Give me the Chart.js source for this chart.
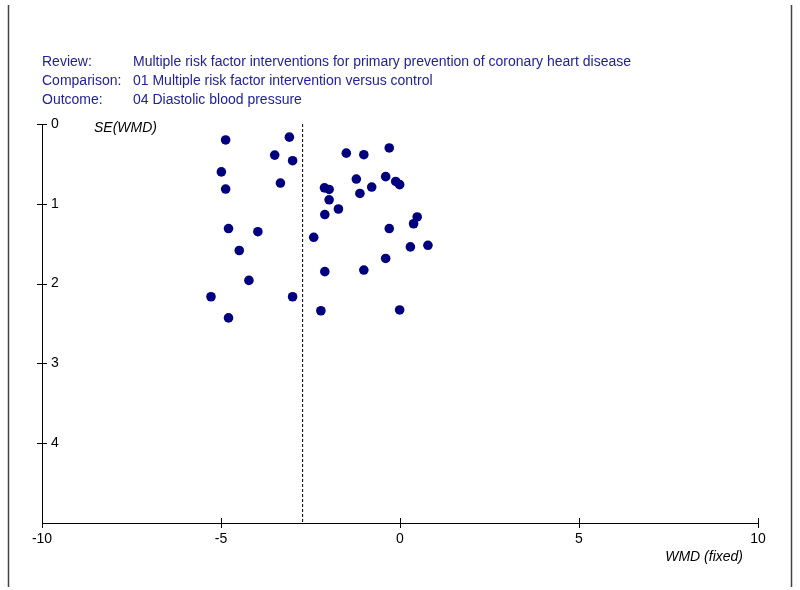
<!DOCTYPE html>
<html>
<head>
<meta charset="utf-8">
<script src="https://cdn.jsdelivr.net/npm/chart.js@4/dist/chart.umd.min.js"></script>
<style>
  html, body { margin: 0; padding: 0; background: #fff; }
  #wrap { width: 800px; height: 590px; position: relative; }
</style>
</head>
<body>
<div id="wrap"><canvas id="c"></canvas></div>
<script>
// ---- data ----
const headerLabels = ["Review:", "Comparison:", "Outcome:"];
const headerValues = [
  "Multiple risk factor interventions for primary prevention of coronary heart disease",
  "01 Multiple risk factor intervention versus control",
  "04 Diastolic blood pressure"
];
const xTitle = "WMD (fixed)";
const yTitle = "SE(WMD)";
const xTickValues = [-10, -5, 0, 5, 10];
const yTickValues = [0, 1, 2, 3, 4];

// weighted mean difference of each trial
const wmd = [
  -4.87, -3.09, -3.50, -3.00, -4.99, -3.34, -4.87, -4.79, -3.97, -4.49,
  -4.22, -5.28, -3.00, -4.79, -1.50, -1.01, -0.30, -1.22, -0.40, -0.12,
  -0.01, -2.11, -1.98, -0.79, -1.12, -1.98, -1.72, -2.10, -2.41, -0.30,
  -2.10, -1.01, -0.40, -2.21, -0.01, 0.48, 0.38, 0.29, 0.78
];
// standard error of each trial's WMD
const seWmd = [
  0.20, 0.165, 0.39, 0.46, 0.60, 0.74, 0.815, 1.31, 1.35, 1.585,
  1.96, 2.165, 2.165, 2.43, 0.365, 0.385, 0.30, 0.69, 0.66, 0.72,
  0.76, 0.80, 0.82, 0.79, 0.87, 0.95, 1.065, 1.135, 1.42, 1.31,
  1.85, 1.83, 1.685, 2.34, 2.33, 1.165, 1.25, 1.54, 1.52
];
// pooled (fixed effect) estimate shown as the dashed line
const pooledWmd = -2.72;
const seRange = [0, 5];

const points = wmd.map((v, i) => ({ x: v, y: seWmd[i] }));
const pooledLine = seRange.map(s => ({ x: pooledWmd, y: s }));

const FONT = "'Liberation Sans', Arial, sans-serif";

const decor = {
  id: 'decor',
  afterDraw(chart) {
    const ctx = chart.ctx;
    const xs = chart.scales.x, ys = chart.scales.y;
    const area = chart.chartArea;
    ctx.save();
    // page frame lines
    ctx.strokeStyle = '#444';
    ctx.lineWidth = 1.5;
    ctx.beginPath();
    ctx.moveTo(8.5, 5); ctx.lineTo(8.5, 587);
    ctx.moveTo(791.5, 5); ctx.lineTo(791.5, 587);
    ctx.stroke();
    // cross tick marks
    ctx.strokeStyle = '#000';
    ctx.lineWidth = 1;
    ctx.beginPath();
    xTickValues.forEach(v => {
      const px = Math.round(xs.getPixelForValue(v)) + 0.5;
      ctx.moveTo(px, area.bottom - 5); ctx.lineTo(px, area.bottom + 5);
    });
    yTickValues.forEach(v => {
      const py = Math.round(ys.getPixelForValue(v)) + 0.5;
      ctx.moveTo(area.left - 5, py); ctx.lineTo(area.left + 5, py);
    });
    ctx.stroke();
    // header
    ctx.fillStyle = '#22229a';
    ctx.font = '14px ' + FONT;
    ctx.textBaseline = 'middle';
    ctx.textAlign = 'left';
    const hy = [62, 81, 100];
    headerLabels.forEach((t, i) => ctx.fillText(t, 42, hy[i]));
    headerValues.forEach((t, i) => ctx.fillText(t, 133, hy[i]));
    // axis titles
    ctx.fillStyle = '#000';
    ctx.font = 'italic 14px ' + FONT;
    ctx.textAlign = 'left';
    ctx.fillText(yTitle, 94, 128);
    ctx.textAlign = 'right';
    ctx.fillText(xTitle, 743, 557);
    ctx.restore();
  }
};

new Chart(document.getElementById('c'), {
  type: 'scatter',
  data: {
    datasets: [
      {
        data: points,
        backgroundColor: '#00007f',
        borderColor: '#00007f',
        borderWidth: 0,
        pointRadius: 4.8,
        pointHoverRadius: 4.8
      },
      {
        type: 'line',
        data: pooledLine,
        borderColor: '#000',
        borderWidth: 1,
        borderDash: [3, 2],
        pointRadius: 0,
        fill: false
      }
    ]
  },
  options: {
    responsive: true,
    maintainAspectRatio: false,
    animation: false,
    layout: { padding: { left: 0, right: 42, top: 124, bottom: 0 } },
    plugins: { legend: { display: false }, tooltip: { enabled: false }, title: { display: false } },
    scales: {
      x: {
        type: 'linear',
        min: -10, max: 10,
        grid: { display: false, drawTicks: false },
        border: { display: true, color: '#000', width: 1 },
        ticks: {
          stepSize: 5,
          color: '#000',
          font: { family: FONT, size: 14 },
          padding: 8,
          maxRotation: 0
        },
        afterFit(s) { s.height = 67; }
      },
      y: {
        type: 'linear',
        position: 'left',
        reverse: true,
        min: seRange[0], max: seRange[1],
        grid: { display: false, drawTicks: false },
        border: { display: true, color: '#000', width: 1 },
        ticks: {
          stepSize: 1,
          mirror: true,
          padding: 9,
          color: '#000',
          font: { family: FONT, size: 14 },
          callback: v => (yTickValues.includes(v) ? String(v) : '')
        },
        afterFit(s) { s.width = 42; }
      }
    }
  },
  plugins: [decor]
});
</script>
</body>
</html>
